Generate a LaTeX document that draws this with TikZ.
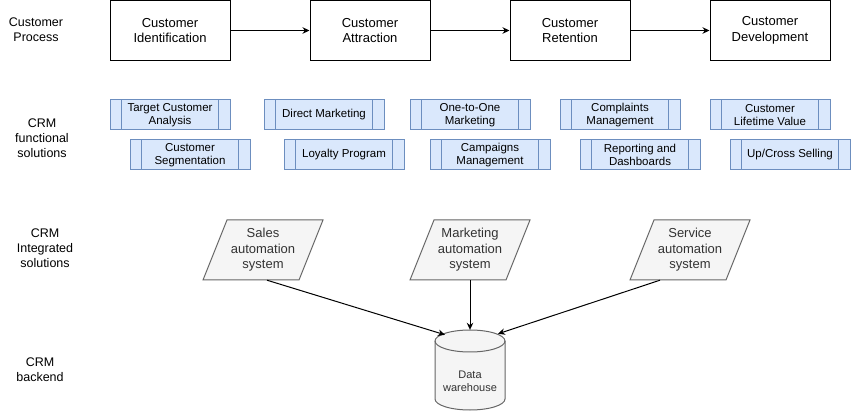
\documentclass[tikz,border=0pt]{standalone}
\usepackage{fontspec}
\setmainfont{Liberation Sans}
\usetikzlibrary{arrows.meta}
\definecolor{procfill}{HTML}{DAE8FC}
\definecolor{procdraw}{HTML}{6C8EBF}
\definecolor{sysfill}{HTML}{F5F5F5}
\definecolor{sysdraw}{HTML}{666666}
\definecolor{sysink}{HTML}{333333}
\tikzset{
  stagebox/.style={draw=black,line width=1pt,minimum width=120pt,minimum height=60pt,
    inner sep=0pt,align=center,font=\fontsize{13}{15.6}\selectfont},
  rowlabel/.style={align=center,inner sep=0pt,font=\fontsize{12.5}{15}\selectfont},
  procbox/.style={draw=procdraw,fill=procfill,line width=1pt,minimum width=120pt,
    minimum height=30pt,inner sep=0pt,align=center,font=\fontsize{11.5}{13.6}\selectfont},
  procline/.style={draw=procdraw,line width=1pt},
  sysshape/.style={draw=sysdraw,fill=sysfill,line width=1pt},
  systext/.style={minimum width=120pt,minimum height=60pt,inner sep=0pt,align=center,
    text=sysink,font=\fontsize{13}{15.6}\selectfont},
  dwtext/.style={minimum width=70pt,minimum height=58pt,inner sep=0pt,align=center,
    text=sysink,font=\fontsize{11}{13.2}\selectfont},
  flow/.style={line width=1pt,-{Stealth[length=7pt,width=6.5pt]}},
}
\newcommand{\drawprocbox}[3]{
  \node[procbox] (#1) at #2 {#3};
  \draw[procline] ([xshift=12pt]#1.north west) -- ([xshift=12pt]#1.south west);
  \draw[procline] ([xshift=-12pt]#1.north east) -- ([xshift=-12pt]#1.south east);
}
\newcommand{\drawsystem}[3]{
  \begin{scope}[shift={#2}]
  \draw[sysshape] (-36,-30) -- (60,-30) -- (36,30) -- (-60,30) -- cycle;
  \end{scope}
  \node[systext] (#1) at #2 {#3};
}

\begin{document}
\begin{tikzpicture}[x=1pt,y=-1pt]
  \useasboundingbox (0,0) rectangle (851,411);

  % customer process
  \node[rowlabel] (lblprocess) at (36,30) {Customer\\Process};
  \node[stagebox] (ident) at (170,30.5) {Customer\\Identification};
  \node[stagebox] (attract) at (370,30.5) {Customer\\Attraction};
  \node[stagebox] (retain) at (570,30.5) {Customer\\Retention};
  \node[stagebox] (develop) at (770,30.5) {Customer\\Development};
  \draw[flow] (ident) -- (attract);
  \draw[flow] (attract) -- (retain);
  \draw[flow] (retain) -- (develop);

  % functional solutions
  \node[rowlabel] (lblfunc) at (42,138) {CRM\\functional\\solutions};
  \drawprocbox{target}{(170,115)}{Target Customer\\Analysis}
  \drawprocbox{direct}{(324,115)}{Direct Marketing}
  \drawprocbox{onetoone}{(470,115)}{One-to-One\\Marketing}
  \drawprocbox{complaints}{(620,115)}{Complaints\\Management}
  \drawprocbox{lifetime}{(770,115)}{Customer\\Lifetime Value}
  \drawprocbox{segment}{(190,155)}{Customer\\Segmentation}
  \drawprocbox{loyalty}{(344,155)}{Loyalty Program}
  \drawprocbox{campaigns}{(490,155)}{Campaigns\\Management}
  \drawprocbox{reporting}{(640,155)}{Reporting and\\Dashboards}
  \drawprocbox{upcross}{(790,155)}{Up/Cross Selling}

  % integrated solutions
  \node[rowlabel] (lblinteg) at (45,248) {CRM\\Integrated\\solutions};
  \drawsystem{sales}{(263,250)}{Sales\\automation\\system}
  \drawsystem{marketing}{(470,250)}{Marketing\\automation\\system}
  \drawsystem{service}{(690,250)}{Service\\automation\\system}

  % backend
  \node[rowlabel] (lblback) at (40,370) {CRM\\backend};
  \begin{scope}[shift={(470,370)}]
  \draw[sysshape] (-35,-29) -- (-35,29) arc[start angle=180,end angle=0,x radius=35,y radius=11]
    -- (35,-29) arc[start angle=0,end angle=-180,x radius=35,y radius=11] -- cycle;
  \draw[sysshape,fill=none] (-35,-29) arc[start angle=180,end angle=0,x radius=35,y radius=11];
  \end{scope}
  \node[dwtext] (dw) at (470,381) {Data\\warehouse};

  \draw[flow] ([xshift=4pt]sales.south) -- ([xshift=-25pt,yshift=17pt]dw.north);
  \draw[flow] (marketing.south) -- ([yshift=22pt]dw.north);
  \draw[flow] ([xshift=-30pt]service.south) -- ([xshift=28pt,yshift=18pt]dw.north);
\end{tikzpicture}
\end{document}
